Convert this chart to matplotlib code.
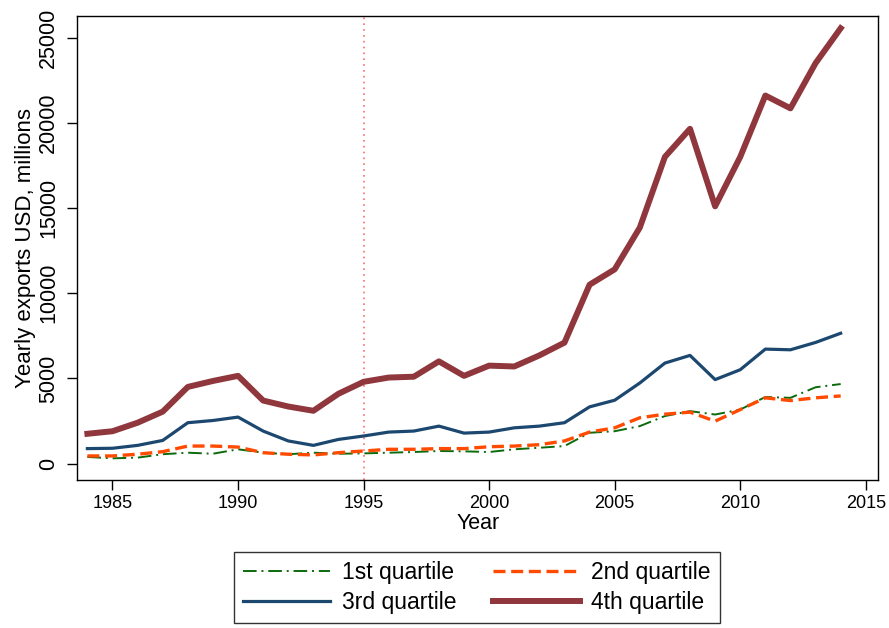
import numpy as np
import matplotlib
matplotlib.use("Agg")
import matplotlib.pyplot as plt

plt.rcParams['font.family'] = ['Liberation Sans', 'DejaVu Sans']

#%% data

years = list(range(1984, 2015))

q1 = [390, 310, 350, 550, 640, 580, 840, 640, 550, 640, 580, 600, 640, 680,
      740, 720, 680, 840, 930, 1030, 1810, 1900, 2200, 2790, 3080, 2880,
      3170, 3910, 3860, 4480, 4670]
q2 = [450, 450, 550, 700, 1030, 1030, 970, 640, 550, 510, 640, 740, 840, 840,
      880, 880, 990, 1030, 1110, 1330, 1850, 2100, 2690, 2900, 3020, 2490,
      3170, 3860, 3700, 3860, 3970]
q3 = [880, 900, 1070, 1360, 2400, 2530, 2730, 1910, 1330, 1070, 1420, 1620,
      1850, 1910, 2200, 1790, 1850, 2100, 2200, 2400, 3330, 3720, 4730, 5900,
      6350, 4930, 5510, 6720, 6680, 7110, 7650]
q4 = [1750, 1900, 2400, 3050, 4500, 4850, 5150, 3700, 3350, 3100, 4100, 4800,
      5050, 5100, 6000, 5150, 5750, 5700, 6350, 7100, 10500, 11400, 13850,
      18000, 19650, 15100, 18000, 21600, 20850, 23500, 25550]

labels = ["1st quartile", "2nd quartile", "3rd quartile", "4th quartile"]
x_ticks = [1985, 1990, 1995, 2000, 2005, 2010, 2015]
y_ticks = [0, 5000, 10000, 15000, 20000, 25000]
policy_year = 1995

#%% plot

fig = plt.figure(figsize=(8.89, 6.28), dpi=100)
ax = fig.add_axes([0.087, 0.236, 0.901, 0.738])

ax.axvline(policy_year, color="#ff6b6b", linestyle=(0, (1, 2.5)), linewidth=1.2, zorder=1)

l1, = ax.plot(years, q1, color="#0b6a0b", linestyle=(0, (7, 2.5, 1, 2.5)), linewidth=1.4, label=labels[0])
l2, = ax.plot(years, q2, color="#ff4a00", linestyle=(0, (3.6, 1.7)), linewidth=2.4, label=labels[1])
l3, = ax.plot(years, q3, color="#1c4870", linewidth=2.3, label=labels[2])
l4, = ax.plot(years, q4, color="#8f373c", linewidth=4.3, label=labels[3])

ax.set_xlim(1983.6, 2015.5)
ax.set_ylim(-950, 26250)
ax.set_xticks(x_ticks)
ax.set_yticks(y_ticks)
ax.tick_params(axis="both", direction="out", length=7, width=1.0)
ax.tick_params(axis="y", pad=6, labelsize=15.5)
ax.tick_params(axis="x", pad=4, labelsize=13)
plt.setp(ax.get_yticklabels(), rotation=90, va="center")
ax.set_xlabel("Year", fontsize=15.5, labelpad=1)
ax.set_ylabel("Yearly exports USD, millions", fontsize=16, labelpad=2)

for s in ax.spines.values():
    s.set_linewidth(1.0)

# legend filled row by row like the original
leg = fig.legend(handles=[l1, l3, l2, l4], loc="center", bbox_to_anchor=(0.5366, 0.0645),
                 ncol=2, fontsize=16.5, frameon=True, fancybox=False, edgecolor="black",
                 handlelength=3.8, columnspacing=1.6, borderpad=0.4, labelspacing=0.3,
                 handletextpad=0.5)
leg.get_frame().set_linewidth(1.0)

plt.savefig("out.png", dpi=100)
